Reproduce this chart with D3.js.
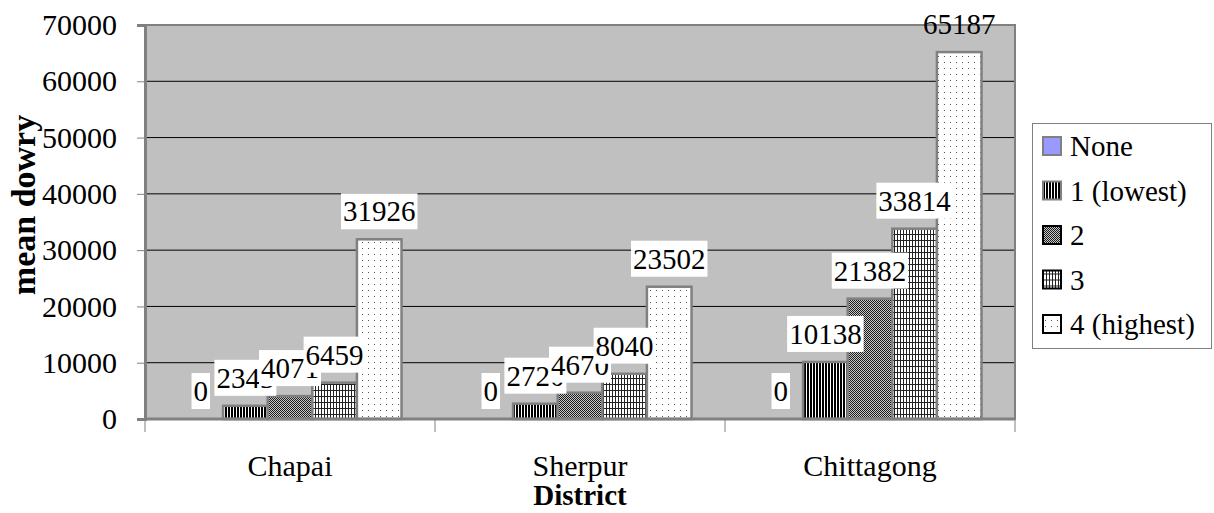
<!DOCTYPE html>
<html>
<head>
<meta charset="utf-8">
<script src="https://cdn.jsdelivr.net/npm/d3@7"></script>
<style>
  body { margin: 0; background: #fff; }
  svg text { font-family: "Liberation Serif", "Times New Roman", serif !important; }
</style>
</head>
<body>
<div id="chart-area"></div>
<script>
// District = category, quintile = series
var districts = ["Chapai", "Sherpur", "Chittagong"];
var groups = ["None", "1 (lowest)", "2", "3", "4 (highest)"];
var none    = [0, 0, 0];
var lowest  = [2343, 2720, 10138];
var second  = [4071, 4670, 21382];
var third   = [6459, 8040, 33814];
var highest = [31926, 23502, 65187];
var yTicks = [0, 10000, 20000, 30000, 40000, 50000, 60000, 70000];

var seriesValues = [none, lowest, second, third, highest];

var W = 1214, H = 513;
var plot = {left: 145, right: 1015, top: 25, bottom: 419};
var serif = "'Liberation Serif', 'Times New Roman', serif";

var svg = d3.select("#chart-area")
    .append("svg")
        .attr("width", W)
        .attr("height", H)
        .style("font-family", serif);

var defs = svg.append("defs");

// patterns for the bars
var p1 = defs.append("pattern").attr("id", "pat1")
    .attr("patternUnits", "userSpaceOnUse").attr("width", 3).attr("height", 3);
p1.append("rect").attr("width", 3).attr("height", 3).attr("fill", "#fff");
p1.append("rect").attr("width", 2).attr("height", 3).attr("fill", "#000");

var p2 = defs.append("pattern").attr("id", "pat2")
    .attr("patternUnits", "userSpaceOnUse").attr("width", 2).attr("height", 2);
p2.append("rect").attr("width", 2).attr("height", 2).attr("fill", "#c8c8c8");
p2.append("rect").attr("width", 1).attr("height", 1).attr("fill", "#1a1a1a");
p2.append("rect").attr("x", 1).attr("y", 1).attr("width", 1).attr("height", 1).attr("fill", "#1a1a1a");

var p3 = defs.append("pattern").attr("id", "pat3")
    .attr("patternUnits", "userSpaceOnUse").attr("width", 3).attr("height", 6);
p3.append("rect").attr("width", 3).attr("height", 6).attr("fill", "#fff");
p3.append("rect").attr("width", 1).attr("height", 6).attr("fill", "#222");
p3.append("rect").attr("width", 3).attr("height", 1).attr("fill", "#222");

var p4 = defs.append("pattern").attr("id", "pat4")
    .attr("patternUnits", "userSpaceOnUse").attr("width", 6).attr("height", 6);
p4.append("rect").attr("width", 6).attr("height", 6).attr("fill", "#fff");
p4.append("rect").attr("x", 2).attr("y", 2).attr("width", 1).attr("height", 1).attr("fill", "#555");

var fills = ["#9999ff", "url(#pat1)", "url(#pat2)", "url(#pat3)", "url(#pat4)"];
var legendStroke = ["#808080", "#808080", "#000", "#000", "#000"];

// Scales
var x0 = d3.scaleBand()
    .domain(districts)
    .range([plot.left, plot.right]);

var x1 = d3.scaleBand()
    .domain(groups)
    .range([0, x0.bandwidth()])
    .paddingInner(0)
    .paddingOuter(0.75);

var y = d3.scaleLinear()
    .domain([0, 70000])
    .range([plot.bottom, plot.top]);

// plot background
svg.append("rect")
    .attr("x", plot.left).attr("y", plot.top)
    .attr("width", plot.right - plot.left)
    .attr("height", plot.bottom - plot.top)
    .attr("fill", "#c0c0c0");

// gridlines
svg.append("g")
    .selectAll("line")
    .data(yTicks.filter(d => d > 0 && d < 70000))
    .enter().append("line")
        .attr("x1", plot.left).attr("x2", plot.right)
        .attr("y1", d => y(d)).attr("y2", d => y(d))
        .attr("stroke", "#000").attr("stroke-width", 1);

// bars
var bars = [];
seriesValues.forEach((vals, si) => {
    vals.forEach((v, ci) => {
        bars.push({s: si, c: ci, v: v});
    });
});

svg.append("g")
    .selectAll("rect")
    .data(bars.filter(d => d.v > 0))
    .enter().append("rect")
        .attr("x", d => x0(districts[d.c]) + x1(groups[d.s]))
        .attr("y", d => y(d.v))
        .attr("width", x1.bandwidth())
        .attr("height", d => y(0) - y(d.v))
        .attr("fill", d => fills[d.s])
        .attr("stroke", "#808080")
        .attr("stroke-width", 2.5);

// frame
svg.append("rect")
    .attr("x", plot.left).attr("y", plot.top)
    .attr("width", plot.right - plot.left)
    .attr("height", plot.bottom - plot.top)
    .attr("fill", "none")
    .attr("stroke", "#808080")
    .attr("stroke-width", 2);

// y axis
var yAxis = d3.axisLeft(y)
    .tickValues(yTicks)
    .tickSize(8)
    .tickPadding(20)
    .tickFormat(d => d);
var gy = svg.append("g")
    .attr("transform", "translate(" + plot.left + ",0)")
    .call(yAxis)
    .attr("font-family", serif)
    .attr("font-size", 30);
gy.select(".domain").attr("stroke", "#808080").attr("stroke-width", 3);
gy.selectAll(".tick line").attr("stroke", "#808080");
gy.selectAll(".tick text")
    .style("font-family", serif)
    .attr("fill", "#000");

// x axis
var gx = svg.append("g")
    .attr("transform", "translate(0," + plot.bottom + ")");
gx.append("line")
    .attr("x1", plot.left).attr("x2", plot.right)
    .attr("stroke", "#808080").attr("stroke-width", 3);
gx.selectAll(".xt")
    .data(districts.concat(["end"]))
    .enter().append("line")
        .attr("class", "xt")
        .attr("x1", (d, i) => i < districts.length ? x0(d) : plot.right)
        .attr("x2", (d, i) => i < districts.length ? x0(d) : plot.right)
        .attr("y1", 0).attr("y2", 13)
        .attr("stroke", "#808080");
gx.selectAll(".xl")
    .data(districts)
    .enter().append("text")
        .attr("class", "xl")
        .attr("x", d => x0(d) + x0.bandwidth() / 2)
        .attr("y", 57)
        .attr("text-anchor", "middle")
        .style("font-family", serif)
        .attr("font-size", "30px")
        .text(d => d);

// axis titles
svg.append("text")
    .attr("x", (plot.left + plot.right) / 2)
    .attr("y", 505)
    .attr("text-anchor", "middle")
    .style("font-family", serif)
    .attr("font-size", "29px")
    .attr("font-weight", "bold")
    .text("District");

svg.append("text")
    .attr("transform", "translate(35,205) rotate(-90)")
    .attr("text-anchor", "middle")
    .style("font-family", serif)
    .attr("font-size", "34px")
    .attr("font-weight", "bold")
    .text("mean dowry");

// data labels, drawn series by series so later boxes cover earlier text
var labelG = svg.append("g");
bars.forEach(d => {
    var cx = x0(districts[d.c]) + x1(groups[d.s]) + x1.bandwidth() / 2;
    var cy = y(d.v) - 28;
    var g = labelG.append("g");
    var t = g.append("text")
        .attr("x", cx)
        .attr("y", cy + 10)
        .attr("text-anchor", "middle")
        .style("font-family", serif)
        .attr("font-size", "29px")
        .text(d.v);
    var bb = t.node().getBBox();
    var top = cy - 18;
    if (top >= plot.top) {
        g.insert("rect", "text")
            .attr("x", bb.x - 2)
            .attr("y", top)
            .attr("width", bb.width + 4)
            .attr("height", 36)
            .attr("fill", "#fff");
    }
});

// legend
var lg = svg.append("g");
lg.append("rect")
    .attr("x", 1032.5).attr("y", 123.5)
    .attr("width", 179).attr("height", 225)
    .attr("fill", "#fff")
    .attr("stroke", "#808080");

var items = lg.selectAll(".item")
    .data(groups)
    .enter().append("g")
        .attr("class", "item")
        .attr("transform", (d, i) => "translate(1043," + (146 + i * 44.5) + ")");
items.append("rect")
    .attr("x", 0).attr("y", -9)
    .attr("width", 18).attr("height", 18)
    .attr("fill", (d, i) => fills[i])
    .attr("stroke", (d, i) => legendStroke[i])
    .attr("stroke-width", 2);
items.append("text")
    .attr("x", 27)
    .attr("y", 10)
    .style("font-family", serif)
    .attr("font-size", "29px")
    .text(d => d);
</script>
</body>
</html>
